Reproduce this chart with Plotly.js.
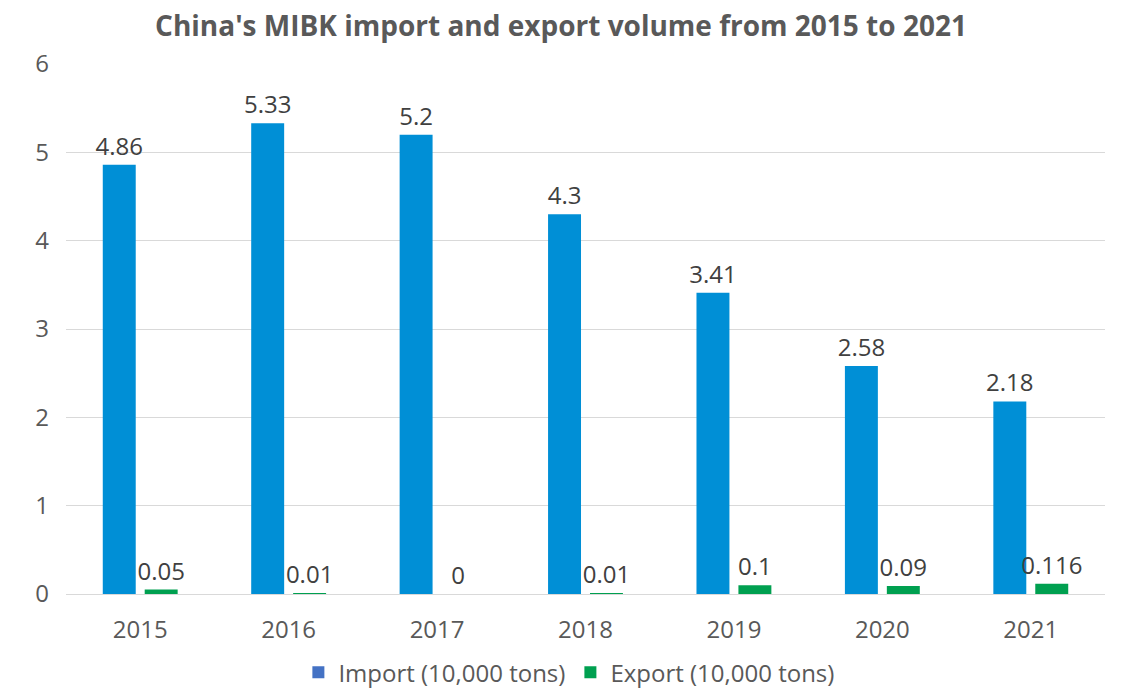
<!DOCTYPE html>
<html>
<head>
<meta charset="utf-8">
<script src="https://cdn.plot.ly/plotly-3.0.1.min.js"></script>
<style>html,body{margin:0;padding:0;background:#fff;}#chart{width:1122px;height:695px;}</style>
</head>
<body>
<div id="chart"></div>
<script>
const years = ["2015","2016","2017","2018","2019","2020","2021"];
const importVals = [4.86, 5.33, 5.2, 4.3, 3.41, 2.58, 2.18];
const exportVals = [0.05, 0.01, 0, 0.01, 0.1, 0.09, 0.116];
const importLabels = ["4.86","5.33","5.2","4.3","3.41","2.58","2.18"];
const exportLabels = ["0.05","0.01","0","0.01","0.1","0.09","0.116"];
const seriesNames = ["Import (10,000 tons)", "Export (10,000 tons)"];

const FONT = '"Open Sans", "Noto Sans", sans-serif';

const traces = [
  {
    type: 'bar', x: years, y: importVals, name: seriesNames[0], offsetgroup: 'imp',
    marker: {color: '#008FD6'}, text: importLabels, textposition: 'outside',
    textfont: {size: 24, color: '#404040', family: FONT}, cliponaxis: false,
    constraintext: 'none', showlegend: false, hoverinfo: 'x+y'
  },
  {
    type: 'bar', x: years, y: exportVals, name: seriesNames[1], offsetgroup: 'exp',
    marker: {color: '#00A050'}, text: exportLabels, textposition: 'outside',
    textfont: {size: 24, color: '#404040', family: FONT}, cliponaxis: false,
    constraintext: 'none', showlegend: false, hoverinfo: 'x+y'
  },
  {
    type: 'bar', x: [years[0]], y: [null], name: seriesNames[0], offsetgroup: 'imp',
    marker: {color: '#4472C4'}, showlegend: true, hoverinfo: 'skip'
  },
  {
    type: 'bar', x: [years[0]], y: [null], name: seriesNames[1], offsetgroup: 'exp',
    marker: {color: '#00A050'}, showlegend: true, hoverinfo: 'skip'
  }
];

const layout = {
  width: 1122, height: 695,
  paper_bgcolor: '#fff', plot_bgcolor: '#fff',
  margin: {l: 66, r: 17, t: 64, b: 101, autoexpand: false},
  barmode: 'group', bargap: 0.435, bargroupgap: 0.214,
  font: {family: FONT, color: '#595959'},
  title: {
    text: "<b>China's MIBK import and export volume from 2015 to 2021</b>",
    font: {size: 28, color: '#595959', family: FONT},
    x: 0.5, xanchor: 'center', yref: 'container', y: 0.963, yanchor: 'middle'
  },
  xaxis: {
    type: 'category', categoryorder: 'array', categoryarray: years,
    tickfont: {size: 24, color: '#595959', family: FONT},
    showline: true, linecolor: '#d9d9d9', linewidth: 1, ticks: '',
    ticklabelstandoff: 14, automargin: false
  },
  yaxis: {
    range: [0, 6], dtick: 1, tick0: 0,
    tickfont: {size: 24, color: '#595959', family: FONT},
    showgrid: true, gridcolor: '#d9d9d9', gridwidth: 1,
    zeroline: true, zerolinecolor: '#d9d9d9', showline: false, ticks: '',
    ticklabelstandoff: 16, automargin: false
  },
  legend: {
    orientation: 'h', x: 0.484, xanchor: 'center',
    yref: 'container', y: 0.032, yanchor: 'middle',
    font: {size: 24, color: '#595959', family: FONT},
    traceorder: 'normal', itemwidth: 30
  }
};

Plotly.newPlot('chart', traces, layout, {displayModeBar: false, responsive: false});
</script>
</body>
</html>
